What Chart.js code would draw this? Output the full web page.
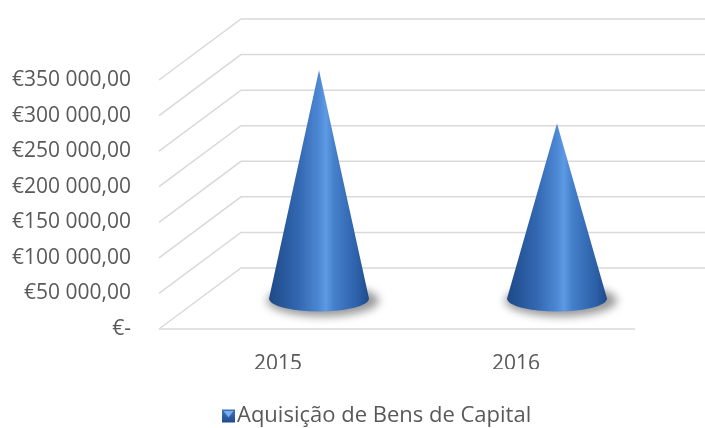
<!DOCTYPE html>
<html>
<head>
<meta charset="utf-8">
<script src="https://cdn.jsdelivr.net/npm/chart.js@4.4.1/dist/chart.umd.min.js"></script>
<style>
  html, body { margin: 0; padding: 0; background: #fff; }
</style>
</head>
<body>
<canvas id="coneChart" width="705" height="428"></canvas>
<script>
// data
const years = ["2015", "2016"];
const acquisitions = [321000, 246000];
const seriesLabel = "Aquisição de Bens de Capital";
const yMin = 0;
const yMax = 350000;
const yStep = 50000;

// 3D look
const depthX = 82;
const depthY = -61;
const baseRy = 13;
const textColor = "#595959";
const gridColor = "#d9d9d9";
const fontFamily = "'Open Sans', sans-serif";
const fontSize = 21;

const formatEuro = (v) => {
  if (v === 0) return "€-";
  return "€" + v.toFixed(0).replace(/\B(?=(\d{3})+(?!\d))/g, " ") + ",00";
};

// back wall + side wall grid lines
const wallPlugin = {
  id: "wall",
  beforeDatasetsDraw(chart) {
    const { ctx, chartArea, scales } = chart;
    const y = scales.y;
    ctx.save();
    ctx.strokeStyle = gridColor;
    ctx.lineWidth = 1.5;
    y.ticks.forEach((t) => {
      const py = y.getPixelForValue(t.value);
      ctx.beginPath();
      ctx.moveTo(chartArea.left, py);
      ctx.lineTo(chartArea.left + depthX, py + depthY);
      ctx.lineTo(chart.width, py + depthY);
      ctx.stroke();
    });
    // front edge of the floor
    const y0 = y.getPixelForValue(0);
    ctx.beginPath();
    ctx.moveTo(chartArea.left, y0);
    ctx.lineTo(chartArea.right, y0);
    ctx.stroke();
    ctx.restore();
  },
};

// cones drawn on top of the (invisible) bars
const conePlugin = {
  id: "cones",
  afterDatasetsDraw(chart) {
    const { ctx, scales } = chart;
    const meta = chart.getDatasetMeta(0);
    const base = scales.y.getPixelForValue(0) + depthY / 2;
    meta.data.forEach((bar) => {
      const cx = bar.x + depthX / 2;
      const top = bar.y + depthY / 2;
      const r = bar.width / 2;

      // soft shadow under the base
      ctx.save();
      ctx.filter = "blur(4px)";
      ctx.fillStyle = "rgba(0,0,0,0.4)";
      ctx.beginPath();
      ctx.ellipse(cx + 4, base + 2, r + 6, baseRy + 3, 0, 0, Math.PI * 2);
      ctx.fill();
      ctx.restore();

      // cone body
      ctx.save();
      const g = ctx.createLinearGradient(cx - r, 0, cx + r, 0);
      g.addColorStop(0, "#1d4987");
      g.addColorStop(0.3, "#3368b2");
      g.addColorStop(0.5, "#4d88d4");
      g.addColorStop(0.57, "#5e99e4");
      g.addColorStop(0.65, "#4580cb");
      g.addColorStop(0.9, "#2b5ea6");
      g.addColorStop(1, "#1e4a8a");
      ctx.fillStyle = g;
      ctx.beginPath();
      ctx.moveTo(cx, top);
      ctx.lineTo(cx - r, base);
      ctx.ellipse(cx, base, r, baseRy, 0, Math.PI, 0, true);
      ctx.closePath();
      ctx.fill();
      ctx.restore();
    });
  },
};

// legend at the bottom
const legendPlugin = {
  id: "bottomLegend",
  afterDraw(chart) {
    const { ctx } = chart;
    const label = chart.data.datasets[0].label;
    ctx.save();
    ctx.font = "22px " + fontFamily;
    const box = 13;
    const gap = 2;
    const x0 = 222;
    const cy = 416;
    // icon
    const bg = ctx.createLinearGradient(0, cy - box / 2, 0, cy + box / 2);
    bg.addColorStop(0, "#3f74bd");
    bg.addColorStop(1, "#1f4b8c");
    ctx.fillStyle = bg;
    ctx.fillRect(x0, cy - box / 2, box, box);
    ctx.fillStyle = "#78acef";
    ctx.beginPath();
    ctx.moveTo(x0 + 1.5, cy - box / 2 + 1.5);
    ctx.lineTo(x0 + box - 1.5, cy - box / 2 + 1.5);
    ctx.lineTo(x0 + box / 2, cy + 1.5);
    ctx.closePath();
    ctx.fill();
    // text
    ctx.fillStyle = textColor;
    ctx.textBaseline = "middle";
    ctx.textAlign = "left";
    ctx.fillText(label, x0 + box + gap, cy);
    ctx.restore();
  },
};

new Chart(document.getElementById("coneChart").getContext("2d"), {
  type: "bar",
  data: {
    labels: years,
    datasets: [
      {
        label: seriesLabel,
        data: acquisitions,
        backgroundColor: "rgba(0,0,0,0)",
        borderWidth: 0,
        categoryPercentage: 1,
        barPercentage: 0.42,
      },
    ],
  },
  options: {
    responsive: false,
    animation: false,
    events: [],
    layout: { padding: { left: 0, right: 70, top: 80, bottom: 59 } },
    plugins: { legend: { display: false }, tooltip: { enabled: false } },
    scales: {
      x: {
        grid: { display: false, drawTicks: false },
        border: { display: false },
        ticks: {
          color: textColor,
          padding: 22,
          font: { family: fontFamily, size: fontSize },
        },
        afterFit(scale) {
          scale.height = 40;
        },
      },
      y: {
        min: yMin,
        max: yMax,
        grid: { display: false, drawTicks: false },
        border: { display: false },
        ticks: {
          stepSize: yStep,
          color: textColor,
          padding: 28,
          font: { family: fontFamily, size: fontSize },
          callback: (v) => formatEuro(v),
        },
        afterFit(scale) {
          scale.width = 159;
        },
      },
    },
  },
  plugins: [wallPlugin, conePlugin, legendPlugin],
});
</script>
</body>
</html>
